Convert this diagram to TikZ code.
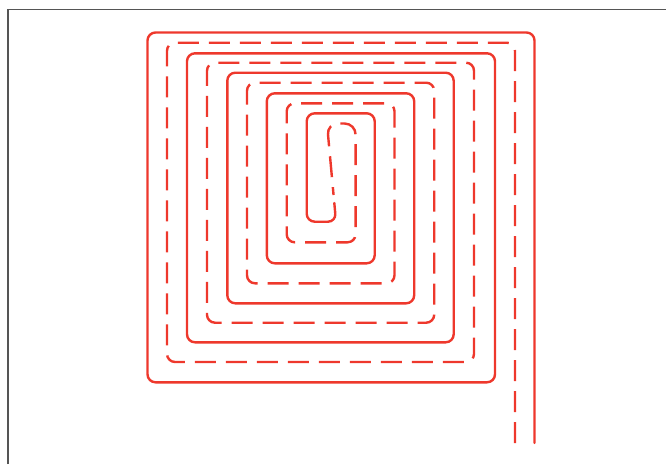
\documentclass[tikz,border=0pt]{standalone}
\definecolor{pipered}{RGB}{238,56,44}
\definecolor{framegray}{RGB}{85,85,85}
\tikzset{
  pipe/.style={draw=pipered, line width=2.4pt, rounded corners=8pt, line cap=round, line join=round},
  retpipe/.style={pipe, line cap=butt, dash pattern=on 21pt off 10pt},
  framebox/.style={draw=framegray, line width=1.2pt}
}
\begin{document}
\begin{tikzpicture}[x=1pt,y=-1pt]
\useasboundingbox (0,0) rectangle (666,464);
% frame
\coordinate (fb) at (8,464);
\coordinate (fc) at (8,9.5);
\coordinate (fr) at (666,9.5);
\draw[framebox] (fb) -- (fc) -- (fr);
% supply (solid) spiral
\coordinate (sin) at (534.5,443);
\coordinate (mid) at (334.3,203);
\coordinate (midr) at (333.55,195);
\draw[pipe] (sin) -- (534.5,32.5) -- (147.5,32.5) -- (147.5,382.3) -- (495,382.3)
  -- (495,53.3) -- (187,53.3) -- (187,342.3) -- (453.7,342.3)
  -- (453.7,72.7) -- (227.3,72.7) -- (227.3,303.3) -- (414.2,303.3)
  -- (414.2,93.3) -- (266.8,93.3) -- (266.8,263.3) -- (374.7,263.3)
  -- (374.7,113.3) -- (306.7,113.3) -- (306.7,221.7) -- (336,221.7) -- (mid);
% return (dashed) spiral, drawn from the outlet inwards
\coordinate (rout) at (515,443);
\draw[retpipe] (rout) -- (515,42.7) -- (167,42.7) -- (167,362) -- (474,362)
  -- (474,62.7) -- (207,62.7) -- (207,322.7) -- (434.2,322.7)
  -- (434.2,82.7) -- (247,82.7) -- (247,283.3) -- (394.5,283.3)
  -- (394.5,103.3) -- (286.7,103.3) -- (286.7,242.3) -- (355.6,242.3)
  [rounded corners=11pt] -- (355.6,123.5) -- (327,123.5) -- (midr);
\end{tikzpicture}
\end{document}
